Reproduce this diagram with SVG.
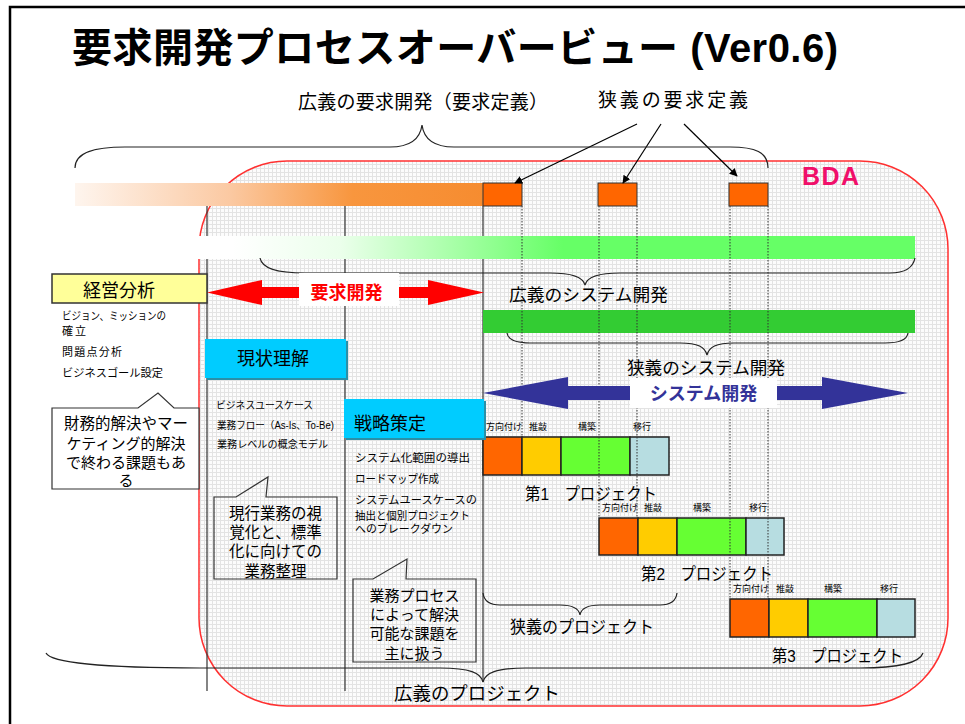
<svg xmlns="http://www.w3.org/2000/svg" width="965" height="724" viewBox="0 0 965 724">
<defs>
<style>
.t{font-family:"Liberation Sans","Noto Sans CJK JP",sans-serif;fill:#000}
.b{font-weight:bold}
.ln{stroke:#333;stroke-width:1.2;fill:none}
.br{stroke:#222;stroke-width:1.2;fill:none}
.dot{stroke:#333;stroke-width:1;stroke-dasharray:1.5 1.5;fill:none}
.ob{fill:#ff6600;stroke:#333;stroke-width:1}
.cy{fill:#00ccff}
.cysh{fill:#2a90a8}
.co{fill:none;stroke:#333;stroke-width:1.2}
.seg{stroke:#222;stroke-width:1.5}
</style>
<pattern id="grid" width="4" height="4" patternUnits="userSpaceOnUse">
<rect width="4" height="4" fill="#fcfcfc"/>
<path d="M0 0.5H4M0.5 0V4" stroke="#e3e3e3" stroke-width="1"/>
</pattern>
<linearGradient id="gOr" x1="75" y1="0" x2="483" y2="0" gradientUnits="userSpaceOnUse">
<stop offset="0" stop-color="#fef5ee"/>
<stop offset="0.38" stop-color="#fbc9a2"/>
<stop offset="0.68" stop-color="#f8963e"/>
<stop offset="1" stop-color="#f68c30"/>
</linearGradient>
<linearGradient id="gGr" x1="197" y1="0" x2="915" y2="0" gradientUnits="userSpaceOnUse">
<stop offset="0" stop-color="#ffffff"/>
<stop offset="0.05" stop-color="#ffffff"/>
<stop offset="0.2" stop-color="#ebffeb"/>
<stop offset="0.51" stop-color="#66ff66"/>
<stop offset="1" stop-color="#66ff66"/>
</linearGradient>
<marker id="ah" viewBox="0 0 10 10" refX="9" refY="5" markerWidth="8" markerHeight="8" markerUnits="userSpaceOnUse" orient="auto">
<path d="M0 0L10 5L0 10Z" fill="#000"/>
</marker>
</defs>
<rect width="965" height="724" fill="#fff"/>
<path d="M10 724V7H965" fill="none" stroke="#000" stroke-width="2.5"/>

<g id="title">
<text class="t b" x="72" y="62" font-size="40" textLength="766">要求開発プロセスオーバービュー (Ver0.6)</text>
</g>

<g id="bda">
<rect x="199" y="161" width="749" height="545" rx="88" ry="88" fill="url(#grid)" stroke="#ff3030" stroke-width="1.5"/>
<text class="t b" x="802" y="185" font-size="25" textLength="57" style="fill:#f0106a">BDA</text>
</g>

<g id="columns">
<line class="ln" x1="207" y1="206" x2="207" y2="691"/>
<line class="ln" x1="345" y1="206" x2="345" y2="691"/>
<line class="ln" x1="483" y1="183" x2="483" y2="682"/>
</g>

<g id="bars">
<rect x="75" y="183" width="408" height="23" fill="url(#gOr)"/>
<rect x="197" y="236" width="718" height="23" fill="url(#gGr)"/>
<rect x="483" y="310" width="432" height="23" fill="#33cc33"/>
</g>

<g id="req-boxes">
<rect class="ob" x="483" y="183" width="39" height="23"/>
<rect class="ob" x="598" y="183" width="39" height="23"/>
<rect class="ob" x="729" y="183" width="39" height="23"/>
</g>

<g id="project1">
<rect class="seg" x="483" y="437" width="39" height="38" fill="#ff6600"/>
<rect class="seg" x="522" y="437" width="39" height="38" fill="#ffcc00"/>
<rect class="seg" x="561" y="437" width="69" height="38" fill="#66ff33"/>
<rect class="seg" x="630" y="437" width="39" height="38" fill="#b7dde1"/>
<text class="t" x="486" y="430" font-size="9">方向付け</text>
<text class="t" x="529" y="430" font-size="9">推敲</text>
<text class="t" x="578" y="430" font-size="9">構築</text>
<text class="t" x="633" y="430" font-size="9">移行</text>
<text class="t" x="525" y="500" font-size="17" textLength="132" lengthAdjust="spacingAndGlyphs">第1　プロジェクト</text>
</g>
<g id="project2">
<rect class="seg" x="599" y="518" width="39" height="37" fill="#ff6600"/>
<rect class="seg" x="638" y="518" width="39" height="37" fill="#ffcc00"/>
<rect class="seg" x="677" y="518" width="69" height="37" fill="#66ff33"/>
<rect class="seg" x="746" y="518" width="38" height="37" fill="#b7dde1"/>
<text class="t" x="602" y="511" font-size="9">方向付け</text>
<text class="t" x="644" y="511" font-size="9">推敲</text>
<text class="t" x="693" y="511" font-size="9">構築</text>
<text class="t" x="749" y="511" font-size="9">移行</text>
<text class="t" x="641" y="580" font-size="17" textLength="132" lengthAdjust="spacingAndGlyphs">第2　プロジェクト</text>
</g>
<g id="project3">
<rect class="seg" x="730" y="599" width="39" height="38" fill="#ff6600"/>
<rect class="seg" x="769" y="599" width="39" height="38" fill="#ffcc00"/>
<rect class="seg" x="808" y="599" width="69" height="38" fill="#66ff33"/>
<rect class="seg" x="877" y="599" width="38" height="38" fill="#b7dde1"/>
<text class="t" x="733" y="592" font-size="9">方向付け</text>
<text class="t" x="776" y="592" font-size="9">推敲</text>
<text class="t" x="824" y="592" font-size="9">構築</text>
<text class="t" x="880" y="592" font-size="9">移行</text>
<text class="t" x="772" y="662" font-size="17" textLength="131" lengthAdjust="spacingAndGlyphs">第3　プロジェクト</text>
</g>

<g id="connectors">
<line class="dot" x1="522" y1="206" x2="522" y2="437"/>
<line class="dot" x1="599" y1="206" x2="599" y2="518"/>
<line class="dot" x1="637" y1="206" x2="637" y2="518"/>
<line class="dot" x1="730" y1="206" x2="730" y2="599"/>
<line class="dot" x1="768" y1="206" x2="768" y2="599"/>
<line x1="637" y1="124" x2="515" y2="183" stroke="#000" stroke-width="1.2" marker-end="url(#ah)"/>
<line x1="661" y1="124" x2="623" y2="183" stroke="#000" stroke-width="1.2" marker-end="url(#ah)"/>
<line x1="684" y1="124" x2="737" y2="176" stroke="#000" stroke-width="1.2" marker-end="url(#ah)"/>
<path class="br" d="M75,168 C75,152 95,147 125,147 L390,147 C410,147 420,140 422,125 C424,140 434,147 454,147 L730,147 C755,147 768,152 768,168"/>
<path class="br" d="M260,258 C262,268 275,273 305,273 L550,273 C572,273 583,277 585,285 C587,277 598,273 620,273 L890,273 C905,273 913,268 915,258"/>
<path class="br" d="M507,333 C508,340 515,343 530,343 L680,343 C698,343 705,347 707,355 C709,347 716,343 734,343 L885,343 C900,343 907,340 908,333"/>
<path class="br" d="M483,593 C484,601 490,605 500,605 L560,605 C574,605 579,609 580,615 C581,609 586,605 600,605 L660,605 C670,605 676,601 677,593"/>
<path class="br" d="M46,653 C50,662 100,668 200,668 L440,668 C470,668 481,673 483,682 C485,673 496,668 526,668 L860,668 C900,668 920,662 923,653"/>
</g>

<g id="req-arrow">
<polygon points="207,292.5 262,280 262,287 428,287 428,280 484,292.5 428,305 428,298 262,298 262,305" fill="#ff0000"/>
<rect x="299" y="273" width="100" height="33" fill="#fff"/>
<text class="t b" x="346.5" y="299" font-size="18" text-anchor="middle" style="fill:#ff0000">要求開発</text>
</g>

<g id="sys-arrow">
<polygon points="483,393 568,377 568,386 822,386 822,377 908,393 822,409 822,400 568,400 568,409" fill="#333399"/>
<rect x="630" y="378" width="147" height="30" fill="#fff"/>
<text class="t b" x="703.5" y="400" font-size="18" text-anchor="middle" style="fill:#333399">システム開発</text>
</g>

<g id="labels">
<text class="t" x="298" y="109" font-size="19" textLength="250">広義の要求開発（要求定義）</text>
<text class="t" x="598" y="107" font-size="19" textLength="150">狭義の要求定義</text>
<text class="t" x="509" y="301" font-size="17.5" textLength="159" lengthAdjust="spacingAndGlyphs">広義のシステム開発</text>
<text class="t" x="627" y="374" font-size="17.5" textLength="158" lengthAdjust="spacingAndGlyphs">狭義のシステム開発</text>
<text class="t" x="510" y="633" font-size="17" textLength="144" lengthAdjust="spacingAndGlyphs">狭義のプロジェクト</text>
<text class="t" x="394" y="700" font-size="18" textLength="166" lengthAdjust="spacingAndGlyphs">広義のプロジェクト</text>
</g>

<g id="keiei">
<rect x="52" y="274" width="155" height="29" fill="#ffff99" stroke="#333" stroke-width="1.5"/>
<text class="t" x="119" y="297" font-size="18" text-anchor="middle">経営分析</text>
<text class="t" x="62" y="320" font-size="11" textLength="104" lengthAdjust="spacingAndGlyphs">ビジョン、ミッションの</text>
<text class="t" x="62" y="335" font-size="11" textLength="24">確立</text>
<text class="t" x="62" y="356" font-size="11" textLength="60">問題点分析</text>
<text class="t" x="62" y="377" font-size="11" textLength="101" lengthAdjust="spacingAndGlyphs">ビジネスゴール設定</text>
</g>

<g id="callout1">
<path d="M52,408 L138,408 L158,393 L174,408 L199,408 L199,489 L52,489 Z" fill="#fff" stroke="#333" stroke-width="1.2"/>
<text class="t" x="126" y="429" font-size="15.5" text-anchor="middle">財務的解決やマー</text>
<text class="t" x="126" y="449" font-size="15" text-anchor="middle">ケティング的解決</text>
<text class="t" x="126" y="468" font-size="15" text-anchor="middle">で終わる課題もあ</text>
<text class="t" x="126" y="486" font-size="15" text-anchor="middle">る</text>
</g>

<g id="genjo">
<rect class="cysh" x="207" y="341" width="141" height="39"/>
<rect class="cy" x="205" y="339" width="141" height="39"/>
<text class="t" x="273" y="365" font-size="18" text-anchor="middle">現状理解</text>
<text class="t" x="216" y="409" font-size="10" textLength="97" lengthAdjust="spacingAndGlyphs">ビジネスユースケース</text>
<text class="t" x="217" y="429" font-size="10" textLength="117" lengthAdjust="spacingAndGlyphs">業務フロー（As-Is、To-Be)</text>
<text class="t" x="217" y="448" font-size="10" textLength="111" lengthAdjust="spacingAndGlyphs">業務レベルの概念モデル</text>
</g>

<g id="callout2">
<path class="co" d="M214,497 L236,497 L268,477 L266,497 L337,497 L337,579 L214,579 Z"/>
<text class="t" x="275.5" y="519" font-size="15.5" text-anchor="middle">現行業務の視</text>
<text class="t" x="275.5" y="538" font-size="15.5" text-anchor="middle">覚化と、標準</text>
<text class="t" x="275.5" y="557" font-size="15.5" text-anchor="middle">化に向けての</text>
<text class="t" x="275.5" y="577" font-size="15.5" text-anchor="middle">業務整理</text>
</g>

<g id="senryaku">
<rect class="cysh" x="346" y="401" width="140" height="39"/>
<rect class="cy" x="344" y="399" width="140" height="39"/>
<text class="t" x="354" y="430" font-size="18">戦略策定</text>
<text class="t" x="355" y="462" font-size="11" textLength="115" lengthAdjust="spacingAndGlyphs">システム化範囲の導出</text>
<text class="t" x="355" y="483" font-size="11" textLength="84" lengthAdjust="spacingAndGlyphs">ロードマップ作成</text>
<text class="t" x="355" y="504" font-size="11" textLength="122" lengthAdjust="spacingAndGlyphs">システムユースケースの</text>
<text class="t" x="355" y="520" font-size="11" textLength="115" lengthAdjust="spacingAndGlyphs">抽出と個別プロジェクト</text>
<text class="t" x="355" y="533" font-size="11" textLength="98" lengthAdjust="spacingAndGlyphs">へのブレークダウン</text>
</g>

<g id="callout3">
<path class="co" d="M353,579 L373,579 L407,559 L406,579 L476,579 L476,662 L353,662 Z"/>
<text class="t" x="414.5" y="601" font-size="15" text-anchor="middle">業務プロセス</text>
<text class="t" x="414.5" y="620" font-size="15" text-anchor="middle">によって解決</text>
<text class="t" x="414.5" y="639" font-size="15" text-anchor="middle">可能な課題を</text>
<text class="t" x="414.5" y="659" font-size="15" text-anchor="middle">主に扱う</text>
</g>
</svg>
